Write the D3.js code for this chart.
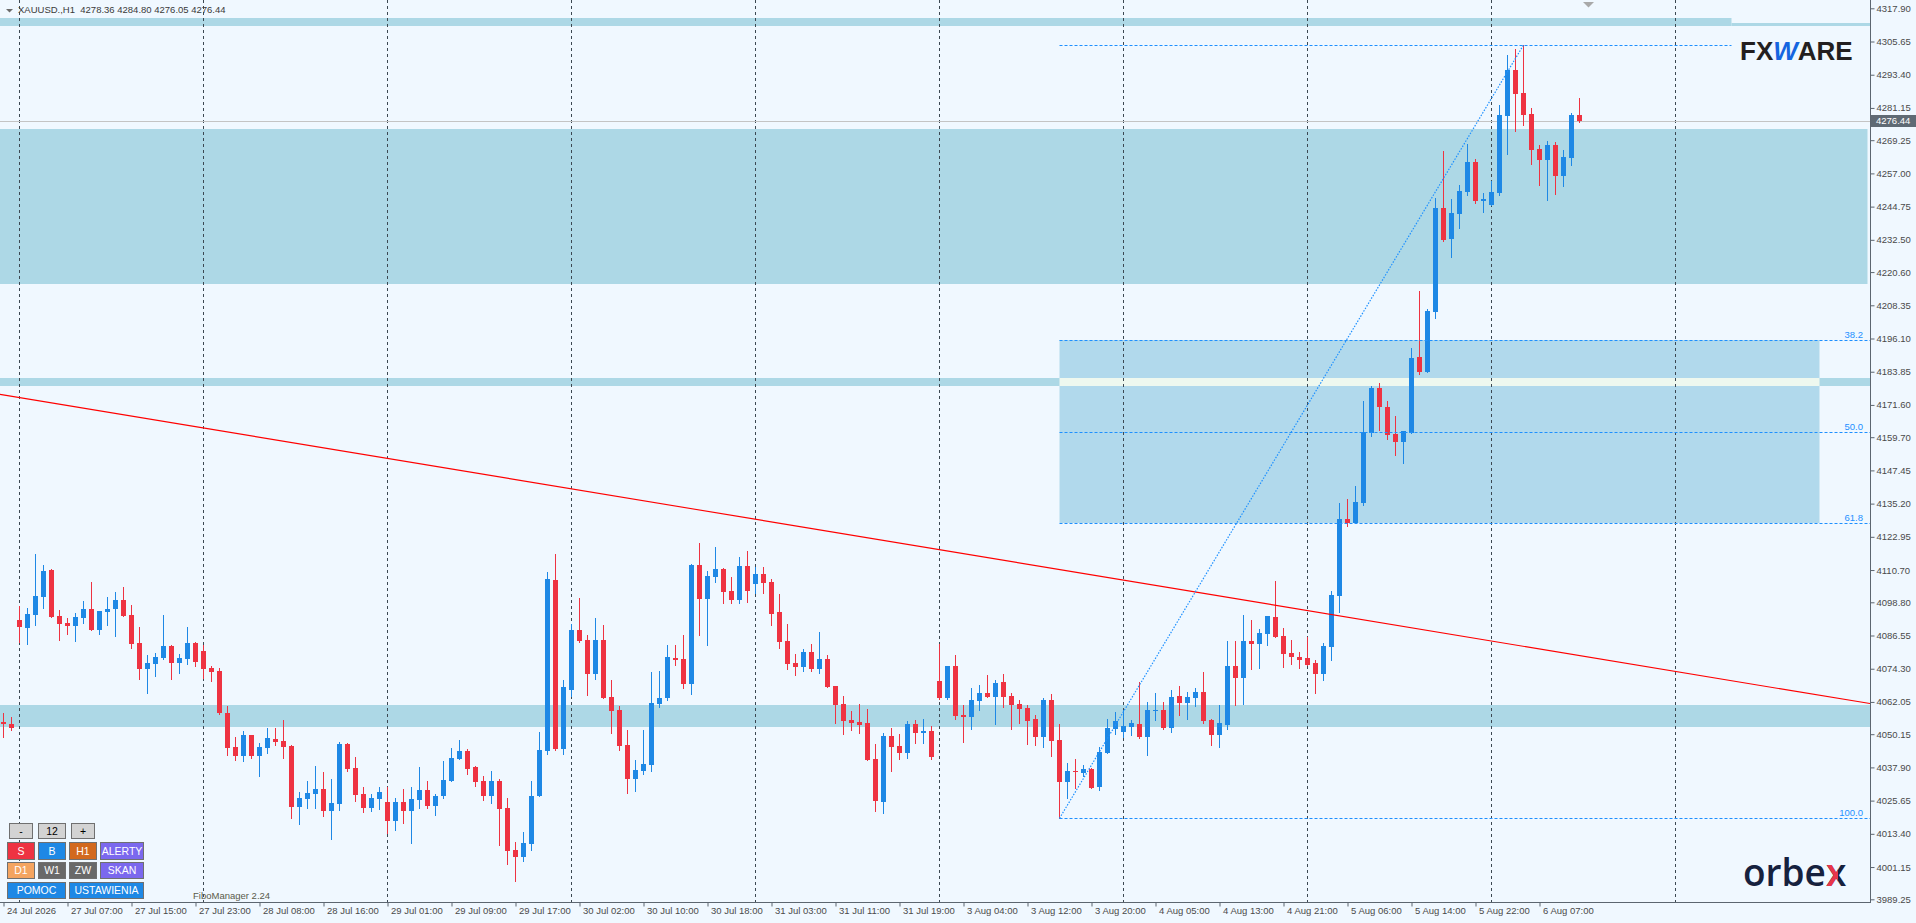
<!DOCTYPE html>
<html>
<head>
<meta charset="utf-8">
<script src="https://cdn.jsdelivr.net/npm/d3@7"></script>
<style>
  html, body { margin: 0; padding: 0; background: #f0f8ff; overflow: hidden; }
  svg { display: block; }
</style>
</head>
<body>
<svg id="chart" width="1916" height="923"></svg>
<script>
// XAUUSD H1 candles, 24 Jul 2026 -> 6 Aug 2026 (one entry per bar index).
const opens = [
  4054.5,4053.9,4092.3,4089.4,4094.1,4100.9,4110.7,4093.7,4091.2,4090.2,
  4093.1,4096.3,4088.7,4095.3,4096.2,4099.6,4094.1,4083.8,4074.2,4076.0,
  4078.2,4082.7,4076.5,4077.9,4083.8,4080.8,4074.6,4073.5,4058.0,4045.4,
  4042.1,4049.8,4042.1,4045.0,4048.4,4047.6,4045.8,4023.3,4026.2,4028.1,
  4029.9,4021.8,4024.4,4046.5,4037.7,4028.1,4022.9,4026.2,4025.1,4018.1,
  4025.1,4021.8,4025.9,4029.6,4023.7,4027.3,4032.9,4041.0,4043.9,4038.0,
  4032.9,4027.3,4032.9,4022.9,4007.4,4004.8,4009.6,4027.3,4043.9,4107.0,
  4044.7,4066.4,4088.6,4084.9,4072.3,4084.9,4063.9,4059.1,4046.2,4033.6,
  4036.6,4038.8,4061.3,4063.5,4078.3,4077.9,4068.7,4112.6,4100.0,4108.1,
  4111.1,4103.0,4099.6,4112.2,4105.5,4109.2,4106.3,4095.2,4084.5,4076.4,
  4074.9,4080.5,4074.2,4077.9,4067.9,4061.3,4055.4,4054.6,4054.3,4041.0,
  4025.1,4049.5,4045.8,4043.2,4053.9,4050.6,4051.3,4069.8,4063.5,4075.3,
  4057.2,4056.5,4062.4,4065.3,4063.9,4069.4,4064.2,4061.3,4059.8,4055.8,
  4049.1,4062.8,4048.0,4032.5,4036.6,4035.8,4037.3,4030.7,4043.2,4052.1,
  4051.0,4052.8,4053.9,4049.1,4058.7,4059.1,4052.4,4064.2,4061.6,4063.5,
  4065.7,4055.4,4049.8,4053.5,4075.3,4070.9,4084.5,4083.4,4087.1,4093.4,
  4086.4,4080.1,4078.6,4078.3,4076.4,4072.4,4082.3,4101.1,4129.5,4128.0,
  4135.4,4161.2,4177.8,4170.8,4160.9,4157.9,4161.2,4189.3,4183.7,4205.9,
  4244.2,4232.8,4242.0,4250.1,4261.2,4246.9,4245.3,4249.8,4278.2,4295.1,
  4286.7,4278.9,4266.0,4261.9,4267.5,4256.0,4262.7,4278.36
];
const highs = [
  4057.8,4056.4,4097.4,4096.8,4116.5,4112.6,4111.1,4096.0,4093.1,4095.0,
  4099.3,4106.4,4095.6,4100.8,4102.7,4104.4,4097.8,4089.7,4079.4,4080.1,
  4094.1,4082.9,4079.7,4089.7,4084.0,4083.0,4075.3,4074.6,4060.5,4049.1,
  4051.3,4050.0,4046.9,4052.4,4052.4,4055.5,4046.2,4028.8,4032.9,4038.4,
  4036.2,4033.6,4047.3,4046.9,4041.7,4030.7,4028.1,4030.7,4030.7,4026.6,
  4029.9,4030.7,4038.0,4032.9,4028.1,4040.3,4045.1,4048.0,4044.7,4038.4,
  4034.7,4036.6,4033.6,4026.6,4010.4,4014.1,4032.9,4051.0,4110.0,4116.6,
  4070.1,4090.8,4100.4,4086.7,4093.0,4090.4,4070.1,4060.5,4051.7,4040.6,
  4051.7,4073.1,4073.5,4083.0,4083.0,4086.7,4112.9,4120.7,4110.3,4119.2,
  4111.4,4108.1,4115.5,4117.7,4111.8,4111.8,4107.4,4101.9,4090.8,4079.7,
  4081.6,4083.4,4087.8,4079.4,4067.9,4064.2,4058.7,4061.3,4059.4,4046.5,
  4050.6,4052.4,4050.2,4055.0,4055.4,4055.8,4053.2,4083.4,4075.3,4079.4,
  4061.0,4067.3,4068.3,4072.0,4070.1,4072.4,4065.3,4062.8,4060.9,4057.2,
  4063.5,4065.0,4053.9,4039.5,4041.0,4038.8,4037.7,4045.4,4055.8,4058.3,
  4059.1,4055.4,4069.4,4062.0,4065.3,4062.0,4066.4,4067.9,4065.7,4067.2,
  4073.1,4055.8,4060.9,4084.5,4084.5,4094.1,4092.3,4089.0,4093.7,4106.7,
  4089.3,4084.9,4080.5,4086.0,4077.5,4083.8,4103.0,4135.4,4136.9,4141.7,
  4173.1,4178.6,4179.7,4173.1,4167.5,4162.0,4192.6,4213.6,4207.0,4247.9,
  4265.3,4247.6,4252.7,4267.8,4262.3,4249.8,4254.2,4282.2,4300.7,4302.9,
  4304.4,4281.1,4267.5,4269.0,4268.6,4265.6,4279.3,4284.80
];
const lows = [
  4049.2,4051.7,4084.0,4083.5,4090.4,4096.8,4093.2,4084.9,4087.1,4084.5,
  4091.2,4088.5,4087.1,4090.4,4086.4,4093.6,4081.8,4070.5,4065.5,4071.7,
  4077.9,4070.5,4072.7,4076.0,4075.4,4070.7,4069.8,4057.7,4042.5,4040.6,
  4040.3,4041.4,4034.7,4043.2,4046.2,4041.4,4019.2,4017.0,4022.9,4022.9,
  4020.0,4011.5,4022.2,4036.6,4025.5,4021.4,4021.8,4022.6,4013.7,4014.8,
  4017.4,4010.0,4022.9,4022.9,4020.3,4026.6,4032.9,4041.0,4035.5,4031.0,
  4025.9,4024.8,4009.3,4002.3,3996.0,4003.4,4007.4,4027.3,4042.8,4044.3,
  4042.8,4064.2,4084.2,4064.6,4070.5,4063.5,4050.6,4044.3,4028.5,4029.2,
  4035.5,4036.6,4060.2,4062.8,4075.7,4067.2,4065.0,4086.7,4083.0,4106.3,
  4098.5,4098.5,4098.5,4098.9,4102.2,4102.2,4090.4,4081.9,4074.2,4072.0,
  4073.5,4073.5,4072.7,4067.6,4054.3,4050.2,4051.7,4050.6,4040.6,4021.8,
  4021.1,4036.6,4041.0,4041.4,4046.9,4046.9,4041.0,4063.1,4063.1,4055.8,
  4047.4,4052.1,4059.1,4063.9,4053.9,4060.2,4052.1,4054.3,4046.5,4046.2,
  4045.4,4042.1,4019.1,4026.6,4030.3,4034.7,4030.3,4029.6,4043.2,4050.2,
  4049.1,4049.8,4048.7,4042.5,4055.4,4052.1,4050.9,4057.2,4055.8,4060.5,
  4054.3,4046.2,4045.4,4052.1,4060.9,4061.3,4074.2,4074.6,4083.0,4086.0,
  4074.9,4076.0,4074.6,4075.7,4065.3,4070.1,4077.5,4095.2,4126.9,4128.0,
  4134.7,4160.1,4162.4,4159.0,4153.1,4150.2,4161.2,4183.0,4183.7,4203.7,
  4232.0,4226.0,4236.9,4249.0,4246.1,4242.8,4245.3,4249.0,4264.2,4272.6,
  4274.9,4260.5,4252.7,4247.2,4249.4,4252.4,4260.1,4276.05
];
const closes = [
  4053.8,4052.6,4089.8,4094.4,4101.1,4110.3,4093.5,4090.8,4090.2,4093.4,
  4096.3,4088.7,4095.6,4096.3,4099.6,4093.9,4083.4,4074.2,4076.4,4078.6,
  4082.7,4076.5,4078.2,4083.8,4076.9,4074.2,4073.1,4058.1,4045.0,4042.1,
  4049.8,4042.1,4045.4,4048.7,4047.3,4045.4,4023.3,4026.6,4028.5,4029.9,
  4021.8,4024.8,4046.5,4037.3,4027.7,4022.9,4026.6,4028.8,4018.1,4025.1,
  4021.8,4026.2,4029.6,4023.7,4027.3,4033.3,4041.4,4043.9,4037.3,4032.5,
  4027.3,4032.9,4022.6,4007.1,4004.8,4010.0,4027.3,4044.3,4107.4,4044.7,
  4067.6,4088.6,4084.5,4072.3,4084.9,4063.5,4058.7,4045.8,4033.6,4036.9,
  4039.2,4061.7,4063.5,4078.6,4077.5,4068.7,4112.6,4100.0,4108.5,4111.1,
  4102.6,4099.6,4112.2,4103.0,4109.2,4105.9,4094.5,4084.2,4076.0,4074.9,
  4080.5,4074.2,4077.9,4067.6,4060.9,4055.0,4054.3,4053.5,4040.6,4025.5,
  4049.5,4045.4,4043.2,4053.9,4050.6,4051.3,4041.7,4063.5,4075.3,4056.9,
  4056.5,4062.8,4065.3,4063.9,4069.0,4063.9,4060.9,4059.4,4055.0,4049.1,
  4062.8,4047.6,4032.5,4036.6,4036.2,4037.3,4030.3,4043.6,4052.4,4055.0,
  4053.2,4054.3,4049.1,4059.1,4059.1,4052.4,4063.9,4061.6,4063.9,4065.7,
  4055.0,4049.8,4054.3,4075.3,4070.9,4084.5,4083.4,4087.5,4093.7,4086.0,
  4079.7,4078.6,4077.5,4075.7,4072.4,4082.7,4101.5,4129.5,4128.0,4135.8,
  4161.6,4177.8,4170.8,4160.5,4157.9,4162.0,4188.9,4183.7,4206.3,4244.2,
  4232.4,4242.4,4250.5,4261.2,4246.8,4247.6,4250.1,4278.5,4295.1,4286.3,
  4278.5,4265.6,4261.9,4267.5,4256.0,4263.1,4278.5,4276.44
];

// Price axis labels (as printed by the terminal).
const priceTicks = [
  4317.90,4305.65,4293.40,4281.15,4269.25,4257.00,4244.75,4232.50,4220.60,4208.35,
  4196.10,4183.85,4171.60,4159.70,4147.45,4135.20,4122.95,4110.70,4098.80,4086.55,
  4074.30,4062.05,4050.15,4037.90,4025.65,4013.40,4001.15,3989.25
];

// Time axis labels and the bar they sit on.
const timeTickBars = [0,8,16,24,32,40,48,56,64,72,80,88,96,104,112,120,128,136,144,152,160,168,176,184,192];
const timeTickLabels = [
  "24 Jul 2026","27 Jul 07:00","27 Jul 15:00","27 Jul 23:00","28 Jul 08:00","28 Jul 16:00",
  "29 Jul 01:00","29 Jul 09:00","29 Jul 17:00","30 Jul 02:00","30 Jul 10:00","30 Jul 18:00",
  "31 Jul 03:00","31 Jul 11:00","31 Jul 19:00","3 Aug 04:00","3 Aug 12:00","3 Aug 20:00",
  "4 Aug 05:00","4 Aug 13:00","4 Aug 21:00","5 Aug 06:00","5 Aug 14:00","5 Aug 22:00","6 Aug 07:00"
];

// First bar of each trading day (period separators).
const dayStartBars = [2,25,48,71,94,117,140,163,186,209];

// Supply / demand zones: price range and bar span (null = chart edge).
const zoneTops    = [4314.3, 4312.5, 4273.4, 4181.4, 4060.9];
const zoneBottoms = [4311.4, 4311.4, 4216.3, 4178.7, 4052.9];
const zoneStarts  = [null,   216,    null,   null,   null];
const zoneEnds    = [216,    null,   233,    null,   null];

// Descending trend line anchors.
const trendBars   = [0, 200];
const trendPrices = [4175.3, 4077.7];

// Fibonacci retracement from swing low to swing high.
const fibLowBar = 132, fibLowPrice = 4019.12;
const fibHighBar = 190, fibHighPrice = 4304.36;
const fibLevels = [0, 38.2, 50.0, 61.8, 100.0];
const fibLevelEnds = [216, null, null, null, null];
const fibBoxLevels = [38.2, 61.8];
const fibBoxEnd = 227;

const header = { symbol: "XAUUSD.,H1", ohlc: [4278.36, 4284.80, 4276.05, 4276.44] };
const lastPrice = 4276.44;

// ---------------------------------------------------------------------------
const W = 1916, H = 923;
const plotRight = 1870, plotBottom = 902;
const FONT = "Liberation Sans, Arial, sans-serif";
const BULL = "#1e88e5", BEAR = "#ee3342";
const ZONE = "#add8e6", FIBBOX = "#b1d9ec", OVERLAP = "#eef8ef";
const FIBBLUE = "#1e90ff";
const AXIS = "#5c6670", TEXT = "#4a4a4a";

const svg = d3.select("#chart");

const x = d3.scaleLinear().domain([0, 192]).range([3.5, 1539.5]);
const y = d3.scaleLinear().domain([3989.25, 4317.90]).range([899.3, 8.3]);

svg.append("rect").attr("width", W).attr("height", H).attr("fill", "#f0f8ff");

svg.append("defs").append("clipPath").attr("id", "plot-clip")
  .append("rect").attr("x", 0).attr("y", 0).attr("width", plotRight).attr("height", plotBottom);

const plot = svg.append("g").attr("clip-path", "url(#plot-clip)");

// Zones.
const zones = zoneTops.map((t, i) => ({
  top: t, bottom: zoneBottoms[i],
  x0: zoneStarts[i] == null ? 0 : x(zoneStarts[i]),
  x1: zoneEnds[i] == null ? plotRight : x(zoneEnds[i])
}));
plot.selectAll(".zone").data(zones).join("rect")
  .attr("class", "zone")
  .attr("x", d => d.x0)
  .attr("y", d => Math.round(y(d.top)))
  .attr("width", d => d.x1 - d.x0)
  .attr("height", d => Math.max(1, Math.round(y(d.bottom)) - Math.round(y(d.top))))
  .attr("fill", ZONE);

// Fibonacci box between 38.2 and 61.8.
const fibPrice = lvl => fibHighPrice - (fibHighPrice - fibLowPrice) * lvl / 100;
const boxTop = fibPrice(fibBoxLevels[0]), boxBottom = fibPrice(fibBoxLevels[1]);
const boxX0 = x(fibLowBar), boxX1 = x(fibBoxEnd);
plot.append("rect")
  .attr("x", boxX0).attr("y", Math.round(y(boxTop)))
  .attr("width", boxX1 - boxX0)
  .attr("height", Math.round(y(boxBottom)) - Math.round(y(boxTop)))
  .attr("fill", FIBBOX);

// Where a zone crosses the fib box the terminal mixes colours to near white.
zones.forEach(z => {
  const top = Math.min(z.top, boxTop), bottom = Math.max(z.bottom, boxBottom);
  const a = Math.max(z.x0, boxX0), b = Math.min(z.x1, boxX1);
  if (top > bottom && b > a) {
    plot.append("rect")
      .attr("x", a).attr("y", Math.round(y(top)))
      .attr("width", b - a)
      .attr("height", Math.round(y(bottom)) - Math.round(y(top)))
      .attr("fill", OVERLAP);
  }
});

// Day separators.
plot.selectAll(".sep").data(dayStartBars).join("line")
  .attr("class", "sep")
  .attr("x1", d => x(d)).attr("x2", d => x(d))
  .attr("y1", 0).attr("y2", plotBottom)
  .attr("stroke", "#3c4852").attr("stroke-width", 1)
  .attr("stroke-dasharray", "3,3")
  .attr("shape-rendering", "crispEdges");

// Last price line.
plot.append("line")
  .attr("x1", 0).attr("x2", plotRight)
  .attr("y1", Math.round(y(lastPrice)) + 0.5).attr("y2", Math.round(y(lastPrice)) + 0.5)
  .attr("stroke", "#c4c4c4").attr("stroke-width", 1);

// Candles.
const candles = opens.map((o, i) => ({ i, o, h: highs[i], l: lows[i], c: closes[i] }));
const cg = plot.append("g").attr("shape-rendering", "crispEdges");
cg.selectAll(".wick").data(candles).join("line")
  .attr("class", "wick")
  .attr("x1", d => x(d.i)).attr("x2", d => x(d.i))
  .attr("y1", d => Math.round(y(d.h))).attr("y2", d => Math.round(y(d.l)) + 1)
  .attr("stroke", d => (d.c >= d.o ? BULL : BEAR)).attr("stroke-width", 1);
cg.selectAll(".body").data(candles).join("rect")
  .attr("class", "body")
  .attr("x", d => x(d.i) - 2.5)
  .attr("width", 5)
  .attr("y", d => Math.round(y(Math.max(d.o, d.c))))
  .attr("height", d => Math.max(1, Math.round(y(Math.min(d.o, d.c))) - Math.round(y(Math.max(d.o, d.c)))))
  .attr("fill", d => (d.c >= d.o ? BULL : BEAR));

// Trend line, extended across the whole plot.
const trendAt = b => trendPrices[0] + (trendPrices[1] - trendPrices[0]) * (b - trendBars[0]) / (trendBars[1] - trendBars[0]);
plot.append("line")
  .attr("x1", 0).attr("y1", y(trendAt(x.invert(0))))
  .attr("x2", plotRight).attr("y2", y(trendAt(x.invert(plotRight))))
  .attr("stroke", "#ff0000").attr("stroke-width", 1.1);

// Fib diagonal.
plot.append("line")
  .attr("x1", x(fibLowBar)).attr("y1", y(fibLowPrice))
  .attr("x2", x(fibHighBar)).attr("y2", y(fibHighPrice))
  .attr("stroke", FIBBLUE).attr("stroke-width", 1.2)
  .attr("stroke-dasharray", "1.5,1.5");

// Fib levels.
const fibData = fibLevels.map((lvl, i) => ({
  lvl, price: fibPrice(lvl),
  x1: fibLevelEnds[i] == null ? plotRight : x(fibLevelEnds[i])
}));
plot.selectAll(".fib").data(fibData).join("line")
  .attr("class", "fib")
  .attr("x1", x(fibLowBar)).attr("x2", d => d.x1)
  .attr("y1", d => Math.round(y(d.price)) + 0.5).attr("y2", d => Math.round(y(d.price)) + 0.5)
  .attr("stroke", FIBBLUE).attr("stroke-width", 1)
  .attr("stroke-dasharray", "3,2");
plot.selectAll(".fibLabel").data(fibData.filter(d => d.lvl > 0)).join("text")
  .attr("class", "fibLabel")
  .attr("x", 1863).attr("y", d => Math.round(y(d.price)) - 2)
  .attr("text-anchor", "end")
  .attr("font-family", FONT).attr("font-size", "9.5px")
  .attr("fill", FIBBLUE)
  .text(d => d.lvl.toFixed(1));

// Axes.
const axes = svg.append("g").attr("shape-rendering", "crispEdges");
axes.append("line")
  .attr("x1", plotRight + 0.5).attr("x2", plotRight + 0.5)
  .attr("y1", 0).attr("y2", plotBottom + 0.5)
  .attr("stroke", AXIS);
axes.append("line")
  .attr("x1", 0).attr("x2", plotRight + 0.5)
  .attr("y1", plotBottom + 0.5).attr("y2", plotBottom + 0.5)
  .attr("stroke", AXIS);

const yAxis = d3.axisRight(y)
  .tickValues(priceTicks)
  .tickFormat(d => d.toFixed(2))
  .tickSize(4).tickPadding(2);
const yg = svg.append("g").attr("transform", `translate(${plotRight + 0.5},0)`).call(yAxis);
yg.select(".domain").remove();
yg.selectAll(".tick line").attr("stroke", AXIS);
yg.selectAll(".tick text")
  .attr("font-family", FONT).attr("font-size", "9.5px").attr("fill", TEXT);

const xAxis = d3.axisBottom(x)
  .tickValues(timeTickBars)
  .tickFormat((d, i) => timeTickLabels[i])
  .tickSize(4);
const xg = svg.append("g").attr("transform", `translate(0,${plotBottom + 0.5})`).call(xAxis);
xg.select(".domain").remove();
xg.selectAll(".tick line").attr("stroke", AXIS);
xg.selectAll(".tick text")
  .attr("text-anchor", "start").attr("x", 3).attr("y", 5)
  .attr("font-family", FONT).attr("font-size", "9.5px").attr("fill", TEXT);

// Last price tag on the price axis.
svg.append("rect")
  .attr("x", plotRight + 1).attr("y", Math.round(y(lastPrice)) - 6)
  .attr("width", W - plotRight - 1).attr("height", 12)
  .attr("fill", "#5f6a74");
svg.append("text")
  .attr("x", plotRight + 6).attr("y", Math.round(y(lastPrice)))
  .attr("dy", "0.35em")
  .attr("font-family", FONT).attr("font-size", "9.5px").attr("fill", "#ffffff")
  .text(lastPrice.toFixed(2));

// Header.
svg.append("path").attr("d", "M6,9 L13,9 L9.5,12.5 Z").attr("fill", "#6b6b6b");
svg.append("text")
  .attr("x", 18).attr("y", 13)
  .attr("font-family", FONT).attr("font-size", "9.5px").attr("fill", "#3a3a3a")
  .attr("xml:space", "preserve")
  .text(`${header.symbol}  ${header.ohlc.map(v => v.toFixed(2)).join(" ")}`);

// Chart shift marker.
svg.append("path").attr("d", "M1583,2 L1594,2 L1588.5,7.5 Z").attr("fill", "#a9a9a9");

// FXWARE logo.
const fx = svg.append("text")
  .attr("x", 1740).attr("y", 60)
  .attr("font-family", FONT).attr("font-size", "26px").attr("font-weight", "bold")
  .attr("fill", "#231f20");
fx.append("tspan").text("FX");
fx.append("tspan").attr("fill", "#1565e0").attr("font-style", "italic").text("W");
fx.append("tspan").text("ARE");

// orbex logo.
svg.append("defs").append("clipPath").attr("id", "x-half")
  .append("rect").attr("x", 1826).attr("y", 850).attr("width", 12).attr("height", 45);
const orbex = (g, fill) => g.append("text")
  .attr("x", 1743).attr("y", 886)
  .attr("font-family", "Open Sans, sans-serif").attr("font-size", "37px")
  .attr("font-weight", "600")
  .attr("fill", fill).text("orbex");
orbex(svg, "#16213e");
orbex(svg.append("g").attr("clip-path", "url(#x-half)"), "#e8364a");

// Control panel buttons (bottom left).
const buttons = [
  { label: "-",          x: 9,   y: 823, w: 23, h: 15, fill: "#d3d3d3", color: "#000" },
  { label: "12",         x: 38,  y: 823, w: 27, h: 15, fill: "#d3d3d3", color: "#000" },
  { label: "+",          x: 71,  y: 823, w: 23, h: 15, fill: "#d3d3d3", color: "#000" },
  { label: "S",          x: 7,   y: 842, w: 27, h: 17, fill: "#ee3342", color: "#fff" },
  { label: "B",          x: 38,  y: 842, w: 27, h: 17, fill: "#1e88e5", color: "#fff" },
  { label: "H1",         x: 69,  y: 842, w: 27, h: 17, fill: "#d2691e", color: "#fff" },
  { label: "ALERTY",     x: 100, y: 842, w: 43, h: 17, fill: "#7b68ee", color: "#fff" },
  { label: "D1",         x: 7,   y: 862, w: 27, h: 16, fill: "#f4a460", color: "#fff" },
  { label: "W1",         x: 38,  y: 862, w: 27, h: 16, fill: "#696969", color: "#fff" },
  { label: "ZW",         x: 69,  y: 862, w: 27, h: 16, fill: "#696969", color: "#fff" },
  { label: "SKAN",       x: 100, y: 862, w: 43, h: 16, fill: "#7b68ee", color: "#fff" },
  { label: "POMOC",      x: 7,   y: 882, w: 58, h: 16, fill: "#1e88e5", color: "#fff" },
  { label: "USTAWIENIA", x: 69,  y: 882, w: 74, h: 16, fill: "#1e88e5", color: "#fff" },
];
const bg = svg.append("g");
bg.selectAll("rect").data(buttons).join("rect")
  .attr("x", d => d.x + 0.5).attr("y", d => d.y + 0.5)
  .attr("width", d => d.w).attr("height", d => d.h)
  .attr("fill", d => d.fill).attr("stroke", "#707070").attr("stroke-width", 1);
bg.selectAll("text").data(buttons).join("text")
  .attr("x", d => d.x + d.w / 2 + 0.5).attr("y", d => d.y + d.h / 2 + 0.5)
  .attr("dy", "0.36em").attr("text-anchor", "middle")
  .attr("font-family", FONT).attr("font-size", "10.5px")
  .attr("fill", d => d.color)
  .text(d => d.label);

svg.append("text")
  .attr("x", 193).attr("y", 899)
  .attr("font-family", FONT).attr("font-size", "9.5px").attr("fill", "#5a5a4a")
  .text("FiboManager 2.24");
</script>
</body>
</html>
